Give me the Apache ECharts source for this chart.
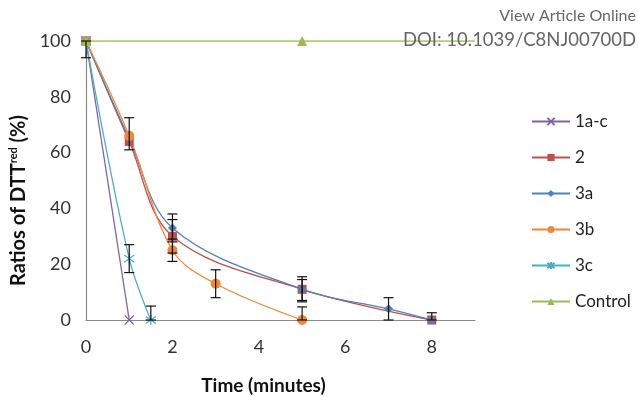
<!DOCTYPE html>
<html>
<head>
<meta charset="utf-8">
<script src="https://cdn.jsdelivr.net/npm/echarts@6/dist/echarts.min.js"></script>
<style>
html,body{margin:0;padding:0;background:#fff;}
#chart{width:638px;height:397px;}
</style>
</head>
<body>
<div id="chart"></div>
<script>
// data: [time (min), ratio %]
var s1ac = [[0, 100], [1, 0]];
var s2 = [[0, 100], [1, 64], [2, 30], [5, 11], [8, 0]];
var s3a = [[0, 100], [1, 65], [2, 33], [5, 11], [7, 4], [8, 0]];
var s3b = [[0, 100], [1, 66], [2, 25], [3, 13], [5, 0]];
var s3c = [[0, 100], [1, 22], [1.5, 0]];
var sControl = [[0, 100], [5, 100], [9, 100]];
// error bars: [x, low, high]
var errBars = [
  [0, 94, 100], [1, 61, 72.5], [1, 17, 27], [1.5, 0, 5],
  [2, 28, 38], [2, 24, 36], [2, 21, 29], [3, 8, 18],
  [5, 7, 15.5], [5, 6.5, 14.5], [5, 0, 4.7], [7, 0, 8], [8, 0, 2.6]
];
var legendNames = ['1a-c', '2', '3a', '3b', '3c', 'Control'];
var xTicks = [0, 2, 4, 6, 8];

var crossPath = 'path://M0,0L10,10M10,0L0,10';
var starPath = 'path://M0,0L10,10M10,0L0,10M5,-2L5,12';

function lineSeries(name, data, color, symbol, size, stroke) {
  return {
    name: name,
    type: 'line',
    smooth: 0.35,
    data: data,
    symbol: symbol,
    symbolSize: size,
    showAllSymbol: true,
    lineStyle: {color: color, width: 1.3},
    itemStyle: stroke ? {color: 'none', borderColor: color, borderWidth: 1.2} : {color: color},
    z: 3
  };
}

var chart = echarts.init(document.getElementById('chart'));
var series = [
  lineSeries('1a-c', s1ac, '#8064A2', crossPath, 9, true),
  lineSeries('2', s2, '#C0504D', 'rect', 9, false),
  lineSeries('3a', s3a, '#4F81BD', 'diamond', 9, false),
  lineSeries('3b', s3b, '#F0883A', 'circle', 10, false),
  lineSeries('3c', s3c, '#4BACC6', starPath, 10, true),
  lineSeries('Control', sControl.map(function (p, i) {
    return i === 2 ? {value: p, symbol: 'none'} : p;
  }), '#9BBB59', 'triangle', 10, false),
  {
    type: 'custom',
    data: errBars,
    encode: {x: 0, y: [1, 2]},
    z: 5,
    renderItem: function (params, api) {
      var lo = api.coord([api.value(0), api.value(1)]);
      var hi = api.coord([api.value(0), api.value(2)]);
      var w = 5;
      var st = {stroke: '#111', lineWidth: 1.2};
      return {
        type: 'group',
        children: [
          {type: 'line', shape: {x1: lo[0], y1: lo[1], x2: hi[0], y2: hi[1]}, style: st},
          {type: 'line', shape: {x1: hi[0] - w, y1: hi[1], x2: hi[0] + w, y2: hi[1]}, style: st},
          {type: 'line', shape: {x1: lo[0] - w, y1: lo[1], x2: lo[0] + w, y2: lo[1]}, style: st}
        ]
      };
    }
  }
];

chart.setOption({
  backgroundColor: '#fff',
  animation: false,
  textStyle: {fontFamily: 'Lato, "Open Sans", sans-serif'},
  grid: {left: 86, right: 163, top: 41, bottom: 77, containLabel: false, outerBoundsMode: 'none'},
  legend: {
    data: legendNames,
    orient: 'vertical',
    left: 531,
    top: 113,
    padding: 0,
    itemWidth: 38,
    itemHeight: 9,
    itemGap: 19,
    textStyle: {fontSize: 17, lineHeight: 17, color: '#222', fontFamily: 'Lato, sans-serif'}
  },
  xAxis: {
    type: 'value',
    min: 0,
    max: 9,
    interval: 2,
    name: 'Time (minutes)',
    nameLocation: 'middle',
    nameGap: 56,
    nameTextStyle: {fontSize: 19, fontWeight: 'bold', color: '#111', padding: [0, 34, 0, 0]},
    axisLine: {lineStyle: {color: '#8a8a8a', width: 1.2}},
    axisTick: {show: false},
    splitLine: {show: false},
    axisLabel: {
      fontSize: 18, color: '#333', margin: 18, showMaxLabel: false,
      formatter: function (v) { return xTicks.indexOf(v) >= 0 ? String(v) : ''; }
    }
  },
  yAxis: {
    type: 'value',
    min: 0,
    max: 100,
    interval: 20,
    name: '{a|Ratios of DTT}{s|red}{a| (%)}',
    nameLocation: 'middle',
    nameGap: 56,
    nameRotate: 90,
    nameTextStyle: {
      padding: [0, 40, 0, 0],
      rich: {
        a: {fontSize: 20, fontWeight: 'bold', color: '#111', lineHeight: 22},
        s: {fontSize: 11, fontWeight: 'bold', color: '#111', verticalAlign: 'top', lineHeight: 22, padding: [0, 0, 8, 0]}
      }
    },
    axisLine: {show: true, lineStyle: {color: '#8a8a8a', width: 1.2}},
    axisTick: {show: false},
    splitLine: {show: false},
    axisLabel: {fontSize: 18, color: '#333', margin: 15}
  },
  graphic: [
    {type: 'text', right: 2, top: 8, z: 10,
      style: {text: 'View Article Online', fontSize: 16, fill: '#666', fontFamily: 'Lato, sans-serif'}},
    {type: 'text', right: 2, top: 31, z: 10,
      style: {text: 'DOI: 10.1039/C8NJ00700D', fontSize: 18.5, fill: '#666', fontFamily: 'Lato, sans-serif'}}
  ],
  series: series
});
</script>
</body>
</html>
